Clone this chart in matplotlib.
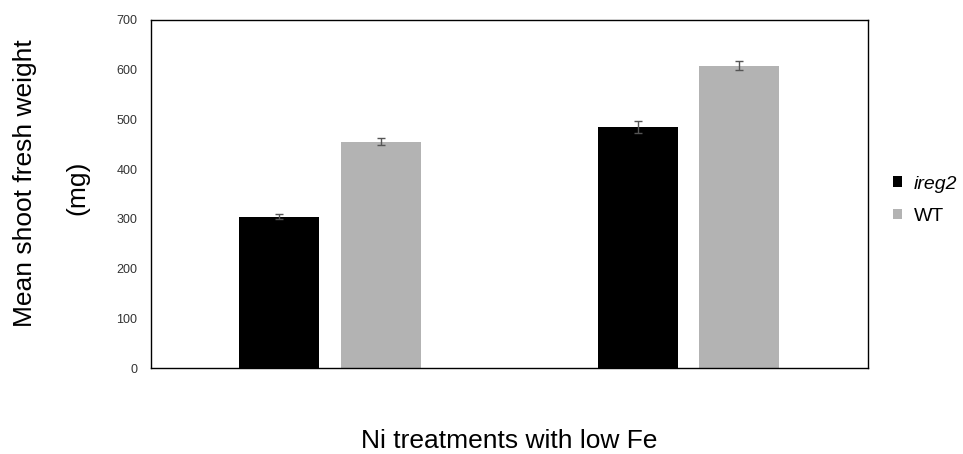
import matplotlib.pyplot as plt
import numpy as np

plt.rcParams['font.family'] = ['Liberation Sans', 'DejaVu Sans']

groups = [0.5, 1.5]
ireg2 = [304, 484]
ireg2_err = [5, 12]
wt = [455, 608]
wt_err = [7, 9]

fig = plt.figure(figsize=(9.63, 4.54), dpi=100)
ax = fig.add_axes([0.157, 0.189, 0.744, 0.767])

w = 0.223
off = 0.142
x = np.array(groups)
ekw = dict(ecolor='#555555', elinewidth=1, capsize=3, capthick=1)
ax.bar(x - off, ireg2, w, color='black', label='ireg2', yerr=ireg2_err, error_kw=ekw)
ax.bar(x + off, wt, w, color='#b3b3b3', label='WT', yerr=wt_err, error_kw=ekw)

ax.set_xlim(0, 2)
ax.set_ylim(0, 700)
ax.set_yticks(range(0, 701, 100))
ax.set_xticks([])
ax.tick_params(axis='y', length=0, labelsize=9, pad=10, labelcolor='#333333')
for s in ax.spines.values():
    s.set_linewidth(1)

# y label as two separate lines, like the original
fig.text(0.026, 0.597, 'Mean shoot fresh weight', rotation=90, fontsize=19,
         ha='center', va='center')
fig.text(0.080, 0.586, '(mg)', rotation=90, fontsize=19, ha='center', va='center')
fig.text(0.529, 0.013, 'Ni treatments with low Fe', fontsize=19,
         ha='center', va='baseline')

leg = ax.legend(loc='center left', bbox_to_anchor=(1.0105, 0.482), frameon=False,
                fontsize=14, handlelength=0.5, handleheight=0.45, handletextpad=0.57,
                labelspacing=0.8)
leg.get_texts()[0].set_style('italic')

fig.savefig('out.png', dpi=100)
